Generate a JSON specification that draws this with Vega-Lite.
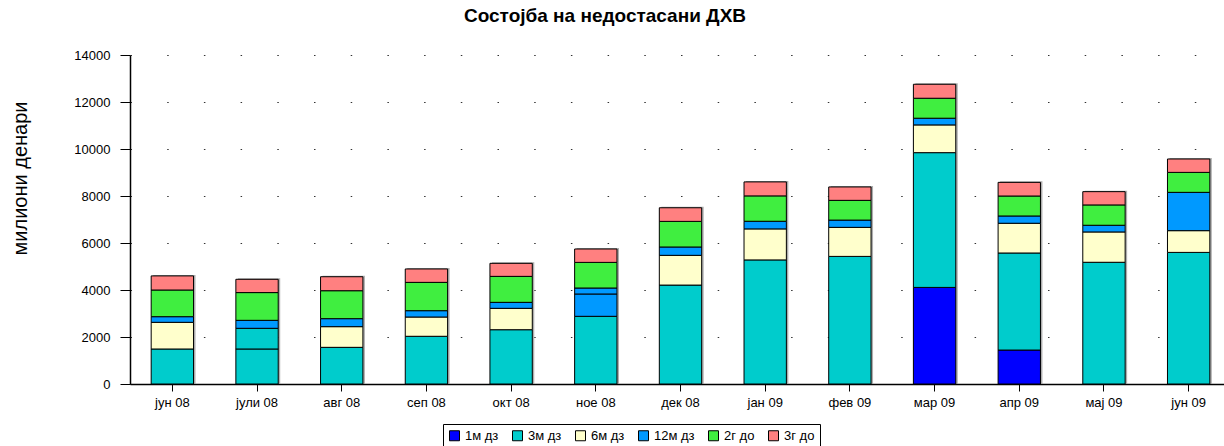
{
  "$schema": "https://vega.github.io/schema/vega-lite/v6.json",
  "width": 1094,
  "height": 329,
  "autosize": {"type": "none"},
  "padding": {"left": 130, "top": 55, "right": 0, "bottom": 62},
  "background": "white",
  "title": {"text": "Состојба на недостасани ДХВ", "font": "Liberation Sans", "fontSize": 19, "fontWeight": "bold", "color": "black", "anchor": "middle", "dx": -72, "offset": 23},
  "config": {"view": {"stroke": null}, "font": "Liberation Sans"},
  "data": {"values": [
    {"m": "јун 08", "s": "3м дз", "p": "a", "o": 2, "v": 1490},
    {"m": "јун 08", "s": "6м дз", "p": "a", "o": 3, "v": 1135},
    {"m": "јун 08", "s": "12м дз", "p": "a", "o": 4, "v": 240},
    {"m": "јун 08", "s": "2г до", "p": "a", "o": 5, "v": 1135},
    {"m": "јун 08", "s": "3г до", "p": "a", "o": 6, "v": 600},
    {"m": "јули 08", "s": "3м дз", "p": "a", "o": 2, "v": 1490},
    {"m": "јули 08", "s": "3м дз", "p": "b", "o": 2.5, "v": 880},
    {"m": "јули 08", "s": "12м дз", "p": "a", "o": 4, "v": 340},
    {"m": "јули 08", "s": "2г до", "p": "a", "o": 5, "v": 1180},
    {"m": "јули 08", "s": "3г до", "p": "a", "o": 6, "v": 565},
    {"m": "авг 08", "s": "3м дз", "p": "a", "o": 2, "v": 1560},
    {"m": "авг 08", "s": "6м дз", "p": "a", "o": 3, "v": 880},
    {"m": "авг 08", "s": "12м дз", "p": "a", "o": 4, "v": 340},
    {"m": "авг 08", "s": "2г до", "p": "a", "o": 5, "v": 1190},
    {"m": "авг 08", "s": "3г до", "p": "a", "o": 6, "v": 595},
    {"m": "сеп 08", "s": "3м дз", "p": "a", "o": 2, "v": 2030},
    {"m": "сеп 08", "s": "6м дз", "p": "a", "o": 3, "v": 820},
    {"m": "сеп 08", "s": "12м дз", "p": "a", "o": 4, "v": 270},
    {"m": "сеп 08", "s": "2г до", "p": "a", "o": 5, "v": 1205},
    {"m": "сеп 08", "s": "3г до", "p": "a", "o": 6, "v": 570},
    {"m": "окт 08", "s": "3м дз", "p": "a", "o": 2, "v": 2310},
    {"m": "окт 08", "s": "6м дз", "p": "a", "o": 3, "v": 910},
    {"m": "окт 08", "s": "12м дз", "p": "a", "o": 4, "v": 255},
    {"m": "окт 08", "s": "2г до", "p": "a", "o": 5, "v": 1105},
    {"m": "окт 08", "s": "3г до", "p": "a", "o": 6, "v": 555},
    {"m": "ное 08", "s": "3м дз", "p": "a", "o": 2, "v": 2880},
    {"m": "ное 08", "s": "12м дз", "p": "a", "o": 4, "v": 950},
    {"m": "ное 08", "s": "12м дз", "p": "b", "o": 4.5, "v": 255},
    {"m": "ное 08", "s": "2г до", "p": "a", "o": 5, "v": 1090},
    {"m": "ное 08", "s": "3г до", "p": "a", "o": 6, "v": 570},
    {"m": "дек 08", "s": "3м дз", "p": "a", "o": 2, "v": 4210},
    {"m": "дек 08", "s": "6м дз", "p": "a", "o": 3, "v": 1265},
    {"m": "дек 08", "s": "12м дз", "p": "a", "o": 4, "v": 355},
    {"m": "дек 08", "s": "2г до", "p": "a", "o": 5, "v": 1090},
    {"m": "дек 08", "s": "3г до", "p": "a", "o": 6, "v": 580},
    {"m": "јан 09", "s": "3м дз", "p": "a", "o": 2, "v": 5280},
    {"m": "јан 09", "s": "6м дз", "p": "a", "o": 3, "v": 1320},
    {"m": "јан 09", "s": "12м дз", "p": "a", "o": 4, "v": 325},
    {"m": "јан 09", "s": "2г до", "p": "a", "o": 5, "v": 1080},
    {"m": "јан 09", "s": "3г до", "p": "a", "o": 6, "v": 595},
    {"m": "фев 09", "s": "3м дз", "p": "a", "o": 2, "v": 5430},
    {"m": "фев 09", "s": "6м дз", "p": "a", "o": 3, "v": 1235},
    {"m": "фев 09", "s": "12м дз", "p": "a", "o": 4, "v": 310},
    {"m": "фев 09", "s": "2г до", "p": "a", "o": 5, "v": 840},
    {"m": "фев 09", "s": "3г до", "p": "a", "o": 6, "v": 570},
    {"m": "мар 09", "s": "1м дз", "p": "a", "o": 1, "v": 4110},
    {"m": "мар 09", "s": "3м дз", "p": "a", "o": 2, "v": 5735},
    {"m": "мар 09", "s": "6м дз", "p": "a", "o": 3, "v": 1180},
    {"m": "мар 09", "s": "12м дз", "p": "a", "o": 4, "v": 285},
    {"m": "мар 09", "s": "2г до", "p": "a", "o": 5, "v": 850},
    {"m": "мар 09", "s": "3г до", "p": "a", "o": 6, "v": 595},
    {"m": "апр 09", "s": "1м дз", "p": "a", "o": 1, "v": 1445},
    {"m": "апр 09", "s": "3м дз", "p": "a", "o": 2, "v": 4130},
    {"m": "апр 09", "s": "6м дз", "p": "a", "o": 3, "v": 1265},
    {"m": "апр 09", "s": "12м дз", "p": "a", "o": 4, "v": 310},
    {"m": "апр 09", "s": "2г до", "p": "a", "o": 5, "v": 850},
    {"m": "апр 09", "s": "3г до", "p": "a", "o": 6, "v": 580},
    {"m": "мај 09", "s": "3м дз", "p": "a", "o": 2, "v": 5180},
    {"m": "мај 09", "s": "6м дз", "p": "a", "o": 3, "v": 1290},
    {"m": "мај 09", "s": "12м дз", "p": "a", "o": 4, "v": 285},
    {"m": "мај 09", "s": "2г до", "p": "a", "o": 5, "v": 865},
    {"m": "мај 09", "s": "3г до", "p": "a", "o": 6, "v": 565},
    {"m": "јун 09", "s": "3м дз", "p": "a", "o": 2, "v": 5600},
    {"m": "јун 09", "s": "6м дз", "p": "a", "o": 3, "v": 925},
    {"m": "јун 09", "s": "12м дз", "p": "a", "o": 4, "v": 1630},
    {"m": "јун 09", "s": "2г до", "p": "a", "o": 5, "v": 850},
    {"m": "јун 09", "s": "3г до", "p": "a", "o": 6, "v": 570}
  ]},
  "encoding": {
    "x": {
      "field": "m", "type": "nominal",
      "sort": ["јун 08", "јули 08", "авг 08", "сеп 08", "окт 08", "ное 08", "дек 08", "јан 09", "фев 09", "мар 09", "апр 09", "мај 09", "јун 09"],
      "scale": {"paddingInner": 0.5, "paddingOuter": 0.25, "range": [0, 1101]},
      "axis": {"title": null, "labelAngle": 0, "labelFontSize": 13, "labelColor": "black", "labelPadding": 5, "tickSize": 7, "tickColor": "black", "domainColor": "black", "domainWidth": 1.5, "labelFont": "Liberation Sans"}
    }
  },
  "layer": [
    {
      "mark": {"type": "bar", "color": "#9a9a9a", "opacity": 0.8, "xOffset": 2, "yOffset": -1},
      "encoding": {
        "y": {"aggregate": "sum", "field": "v", "type": "quantitative", "scale": {"domain": [0, 14000]}}
      }
    },
    {
      "mark": {"type": "bar", "stroke": "black", "strokeWidth": 1},
      "encoding": {
        "y": {
          "aggregate": "sum", "field": "v", "type": "quantitative",
          "scale": {"domain": [0, 14000]},
          "axis": {"title": "милиони денари", "titleFontSize": 20, "titleFontWeight": "normal", "titleColor": "black", "titleFont": "Liberation Sans", "titleX": -110, "titleY": 123, "titleAngle": -90, "titleAlign": "center", "titleBaseline": "middle", "values": [0, 2000, 4000, 6000, 8000, 10000, 12000, 14000], "format": "d", "labelFontSize": 13, "labelColor": "black", "labelPadding": 10, "tickSize": 10, "tickColor": "black", "domainColor": "black", "domainWidth": 1.5, "grid": true, "gridColor": "#333333", "gridWidth": 1.2, "gridDash": [1.5, 35.2], "labelFont": "Liberation Sans"}
        },
        "color": {
          "field": "s", "type": "nominal",
          "scale": {"domain": ["1м дз", "3м дз", "6м дз", "12м дз", "2г до", "3г до"], "range": ["#0000ff", "#00cccc", "#ffffcc", "#0099ff", "#40ee40", "#ff8080"]},
          "legend": {"title": null, "orient": "none", "legendX": 313, "legendY": 369, "direction": "horizontal", "strokeColor": "black", "padding": 5, "symbolType": "square", "symbolSize": 100, "symbolStrokeColor": "black", "symbolStrokeWidth": 1, "symbolOpacity": 1, "labelFontSize": 13, "labelColor": "black", "labelOffset": 4, "columnPadding": 11, "labelFont": "Liberation Sans"}
        },
        "detail": {"field": "p", "type": "nominal"},
        "order": {"field": "o", "type": "quantitative"}
      }
    }
  ]
}
